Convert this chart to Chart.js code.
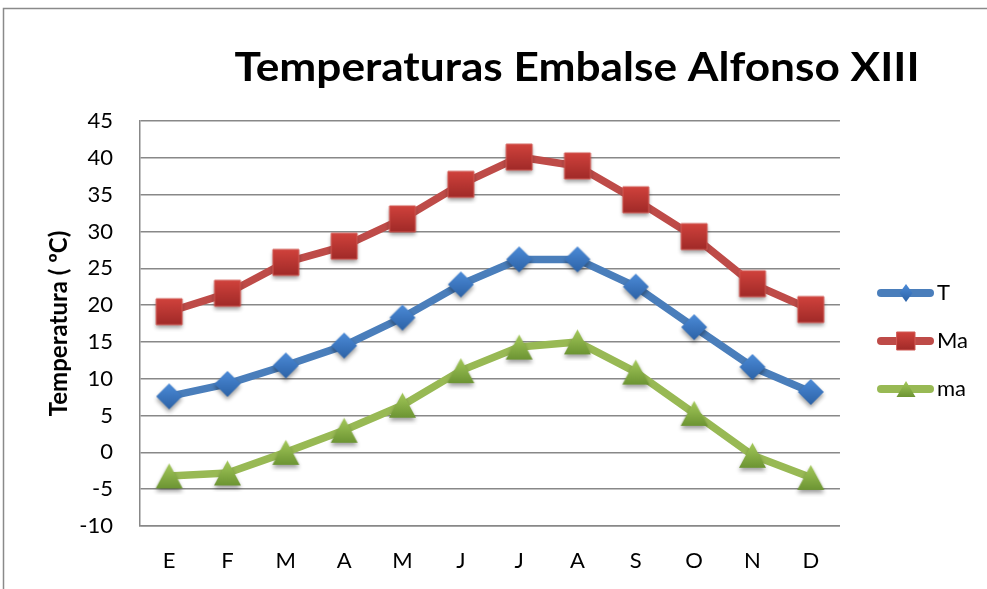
<!DOCTYPE html>
<html>
<head>
<meta charset="utf-8">
<title>Temperaturas Embalse Alfonso XIII</title>
<script src="https://cdn.jsdelivr.net/npm/chart.js@4/dist/chart.umd.min.js"></script>
<style>
  html, body { margin: 0; padding: 0; background: #ffffff; }
  #wrap { position: relative; width: 987px; height: 589px; }
</style>
</head>
<body>
<div id="wrap"><canvas id="chart" width="987" height="589"></canvas></div>
<script>
// Monthly temperatures (ºC)
const months = ['E', 'F', 'M', 'A', 'M', 'J', 'J', 'A', 'S', 'O', 'N', 'D'];
const seriesNames = ['T', 'Ma', 'ma'];
const tMedia  = [7.6, 9.3, 11.8, 14.5, 18.3, 22.8, 26.2, 26.2, 22.5, 17.0, 11.6, 8.2];
const tMaxima = [19.1, 21.6, 25.8, 28.0, 31.7, 36.4, 40.1, 38.9, 34.3, 29.3, 22.9, 19.4];
const tMinima = [-3.2, -2.8, 0.0, 3.0, 6.4, 11.1, 14.3, 15.0, 10.9, 5.3, -0.4, -3.4];
const yMin = -10, yMax = 45, yStep = 5;

const titleText = 'Temperaturas Embalse Alfonso XIII';
const axisTitle = 'Temperatura ( ºC)';
const FONT = 'Lato, "Open Sans", sans-serif';

// ---- marker shapes -------------------------------------------------------
function diamondPath(ctx, cx, cy, hw, hh) {
  ctx.beginPath();
  ctx.moveTo(cx, cy - hh);
  ctx.lineTo(cx + hw, cy);
  ctx.lineTo(cx, cy + hh);
  ctx.lineTo(cx - hw, cy);
  ctx.closePath();
}
function squarePath(ctx, cx, cy, hw, hh) {
  ctx.beginPath();
  ctx.rect(cx - hw, cy - hh, hw * 2, hh * 2);
}
function trianglePath(ctx, cx, cy, hw, hh) {
  ctx.beginPath();
  ctx.moveTo(cx, cy - hh);
  ctx.lineTo(cx + hw, cy + hh);
  ctx.lineTo(cx - hw, cy + hh);
  ctx.closePath();
}

function paintMarker(ctx, shape, cx, cy, hw, hh, top, bottom, edge, shadow) {
  const g = ctx.createLinearGradient(0, cy - hh, 0, cy + hh);
  g.addColorStop(0, top);
  g.addColorStop(1, bottom);
  ctx.save();
  if (shadow) {
    ctx.shadowColor = 'rgba(0,0,0,0.38)';
    ctx.shadowBlur = 4;
    ctx.shadowOffsetY = 3;
  }
  shape(ctx, cx, cy, hw, hh);
  ctx.fillStyle = g;
  ctx.fill();
  ctx.restore();
  if (edge) {
    shape(ctx, cx, cy, hw, hh);
    ctx.strokeStyle = edge;
    ctx.lineWidth = 1;
    ctx.stroke();
  }
}

function markerImage(shape, hw, hh, top, bottom, edge) {
  const c = document.createElement('canvas');
  c.width = Math.ceil(hw * 2 + 14);
  c.height = Math.ceil(hh * 2 + 14);
  const ctx = c.getContext('2d');
  paintMarker(ctx, shape, c.width / 2, c.height / 2, hw, hh, top, bottom, edge, true);
  return c;
}

// legend swatch: thick line with the marker in the middle
function swatchImage(lineColor, shape, hw, hh, top, bottom, edge) {
  const c = document.createElement('canvas');
  c.width = 80; c.height = 28;
  const ctx = c.getContext('2d');
  const cy = c.height / 2;
  ctx.beginPath();
  ctx.moveTo(25, cy);
  ctx.lineTo(74, cy);
  ctx.lineWidth = 8;
  ctx.lineCap = 'round';
  ctx.strokeStyle = lineColor;
  ctx.stroke();
  paintMarker(ctx, shape, 50, cy, hw, hh, top, bottom, edge, false);
  return c;
}

const styles = [
  { line: '#4A7EBB', shape: diamondPath, top: '#4C8BD8', bottom: '#2C62A6', edge: null,
    p: [13, 13], l: [6.5, 9] },
  { line: '#BE4B48', shape: squarePath, top: '#D0423C', bottom: '#A02A28', edge: '#D25A55',
    p: [13, 13], l: [9, 9] },
  { line: '#98B954', shape: trianglePath, top: '#A4C95A', bottom: '#6C9433', edge: null,
    p: [13.5, 12.5], l: [9.5, 8] }
];

const values = [tMedia, tMaxima, tMinima];

const datasets = seriesNames.map((name, i) => {
  const s = styles[i];
  return {
    label: name,
    data: values[i],
    borderColor: s.line,
    backgroundColor: s.line,
    borderWidth: 7.5,
    borderJoinStyle: 'round',
    borderCapStyle: 'round',
    tension: 0,
    pointStyle: markerImage(s.shape, s.p[0], s.p[1], s.top, s.bottom, s.edge),
    pointRadius: 10,
    pointHoverRadius: 10,
    clip: false
  };
});

const swatches = styles.map(s => swatchImage(s.line, s.shape, s.l[0], s.l[1], s.top, s.bottom, s.edge));

// frame around the whole chart (top and left edges are inside the page)
const framePlugin = {
  id: 'frame',
  beforeDraw(chart) {
    const ctx = chart.ctx;
    ctx.save();
    ctx.fillStyle = '#ffffff';
    ctx.fillRect(0, 0, chart.width, chart.height);
    ctx.strokeStyle = '#8a8a8a';
    ctx.lineWidth = 1.5;
    ctx.beginPath();
    ctx.moveTo(3.5, chart.height);
    ctx.lineTo(3.5, 8.5);
    ctx.lineTo(chart.width, 8.5);
    ctx.stroke();
    ctx.restore();
  }
};

// main heading, condensed horizontally to its box width
const headingPlugin = {
  id: 'heading',
  afterDraw(chart) {
    const ctx = chart.ctx;
    ctx.save();
    ctx.font = `bold 40px ${FONT}`;
    const w = ctx.measureText(titleText).width;
    const sx = 685 / w;
    ctx.translate(577, 81);
    ctx.scale(sx, 1);
    ctx.fillStyle = '#000000';
    ctx.textAlign = 'center';
    ctx.textBaseline = 'alphabetic';
    ctx.fillText(titleText, 0, 0);
    ctx.restore();
  }
};

const gridColor = '#888888';

new Chart(document.getElementById('chart'), {
  type: 'line',
  data: { labels: months, datasets },
  options: {
    responsive: false,
    animation: false,
    devicePixelRatio: 1,
    layout: { padding: { top: 93, left: 38, right: 9, bottom: 0 } },
    plugins: {
      title: { display: false },
      // empty band above the plot, spanning only the plot width
      subtitle: {
        display: true,
        text: ' ',
        fullSize: false,
        font: { size: 10 },
        padding: { top: 16, bottom: 0 }
      },
      tooltip: { enabled: false },
      legend: {
        position: 'right',
        labels: {
          usePointStyle: true,
          pointStyleWidth: 60,
          padding: 26,
          color: '#000000',
          font: { family: FONT, size: 22 },
          generateLabels(chart) {
            return chart.data.datasets.map((ds, i) => ({
              text: ds.label,
              pointStyle: swatches[i],
              fillStyle: ds.borderColor,
              strokeStyle: ds.borderColor,
              lineWidth: 0,
              hidden: false,
              datasetIndex: i,
              fontColor: '#000000'
            }));
          }
        }
      }
    },
    scales: {
      x: {
        type: 'category',
        offset: true,
        grid: { display: true, drawOnChartArea: false, drawTicks: false },
        border: { display: true, color: gridColor, width: 1.5 },
        ticks: { color: '#000000', font: { family: FONT, size: 22 }, padding: 22, maxRotation: 0 },
        afterFit(scale) { scale.height = 63; }
      },
      y: {
        min: yMin,
        max: yMax,
        ticks: { stepSize: yStep, color: '#000000', font: { family: FONT, size: 22 }, padding: 27 },
        grid: { color: gridColor, lineWidth: 1.4, drawTicks: false },
        border: { display: true, color: gridColor, width: 1.5 },
        title: {
          display: true,
          text: axisTitle,
          color: '#000000',
          font: { family: FONT, size: 24, weight: 'bold' },
          padding: { top: 7, bottom: 0 }
        },
        afterFit(scale) { scale.width = 102; }
      }
    }
  },
  plugins: [framePlugin, headingPlugin]
});
</script>
</body>
</html>
